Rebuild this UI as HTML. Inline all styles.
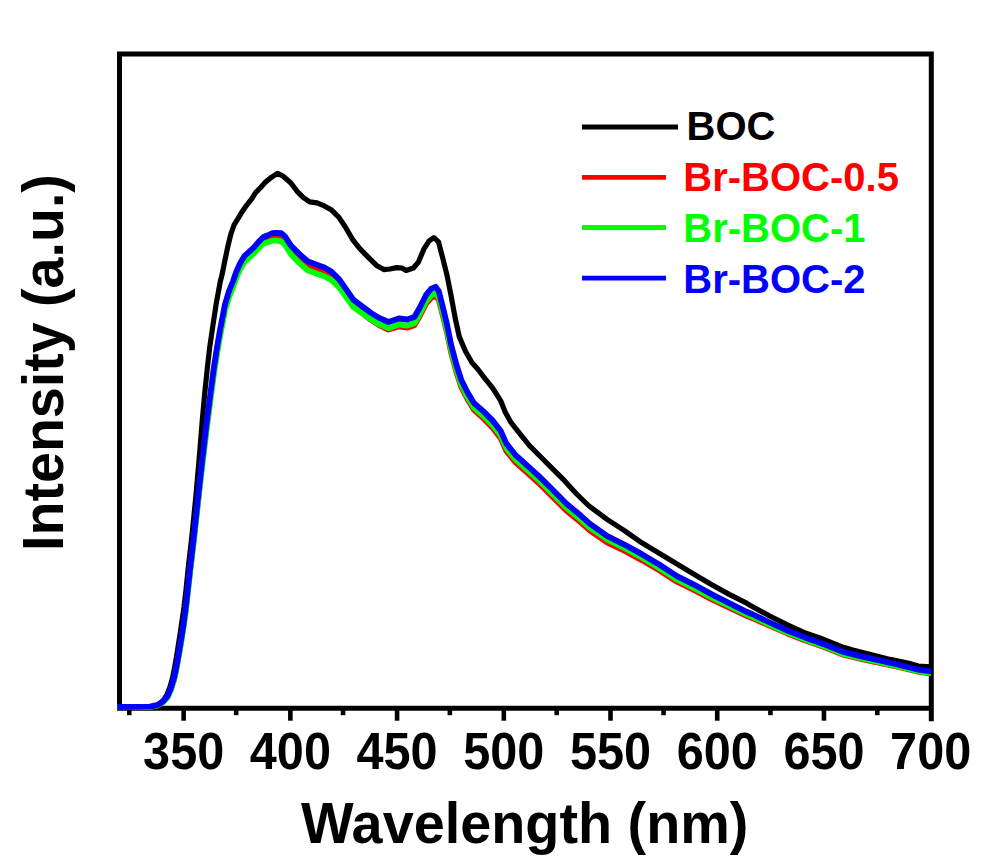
<!DOCTYPE html>
<html><head><meta charset="utf-8"><style>html,body{margin:0;padding:0;background:#fff;overflow:hidden}svg{display:block}</style></head>
<body><svg width="990" height="862" viewBox="0 0 990 862">
<defs><clipPath id="pc"><rect x="117.5" y="0" width="813.5" height="800"/></clipPath></defs>
<rect width="990" height="862" fill="#fff"/>
<g stroke="#000" fill="none">
<path d="M119.5,54 L931.3,54 L931.3,718.7 M931.3,708.2 L119.5,708.2 L119.5,54" stroke-width="5" stroke-linecap="square" stroke-linejoin="miter"/>
<line x1="129.29" y1="708" x2="129.29" y2="715.2" stroke="#000" stroke-width="4.6"/><line x1="183.65" y1="708" x2="183.65" y2="720.7" stroke="#000" stroke-width="4.6"/><line x1="236.15" y1="708" x2="236.15" y2="715.2" stroke="#000" stroke-width="4.6"/><line x1="290.37" y1="708" x2="290.37" y2="720.7" stroke="#000" stroke-width="4.6"/><line x1="343.01" y1="708" x2="343.01" y2="715.2" stroke="#000" stroke-width="4.6"/><line x1="397.08" y1="708" x2="397.08" y2="720.7" stroke="#000" stroke-width="4.6"/><line x1="449.87" y1="708" x2="449.87" y2="715.2" stroke="#000" stroke-width="4.6"/><line x1="503.80" y1="708" x2="503.80" y2="720.7" stroke="#000" stroke-width="4.6"/><line x1="556.72" y1="708" x2="556.72" y2="715.2" stroke="#000" stroke-width="4.6"/><line x1="610.51" y1="708" x2="610.51" y2="720.7" stroke="#000" stroke-width="4.6"/><line x1="663.58" y1="708" x2="663.58" y2="715.2" stroke="#000" stroke-width="4.6"/><line x1="717.23" y1="708" x2="717.23" y2="720.7" stroke="#000" stroke-width="4.6"/><line x1="770.44" y1="708" x2="770.44" y2="715.2" stroke="#000" stroke-width="4.6"/><line x1="823.94" y1="708" x2="823.94" y2="720.7" stroke="#000" stroke-width="4.6"/><line x1="877.30" y1="708" x2="877.30" y2="715.2" stroke="#000" stroke-width="4.6"/>
</g>
<g fill="none" stroke-linejoin="round" stroke-linecap="butt" clip-path="url(#pc)" stroke-width="5.2">
<path d="M117.0,707.0 L150.0,706.8 L156.0,705.9 L160.0,703.5 L164.0,699.5 L167.0,694.5 L170.0,687.0 L172.5,678.0 L174.5,668.0 L176.3,658.0 L178.2,646.0 L180.1,634.0 L182.0,621.0 L184.0,607.0 L186.0,590.0 L188.0,570.0 L192.0,535.0 L196.0,495.0 L199.5,455.0 L202.3,420.0 L204.7,393.6 L207.2,369.3 L209.6,348.2 L212.9,325.5 L216.1,304.4 L220.2,282.0 L222.0,274.9 L224.6,261.9 L227.8,246.6 L230.9,233.9 L234.1,224.9 L238.0,218.6 L241.8,212.2 L246.2,205.8 L251.3,199.4 L255.8,192.4 L260.9,187.3 L266.0,181.6 L271.7,177.1 L277.5,173.3 L282.6,175.8 L290.9,183.0 L297.1,191.3 L303.4,197.6 L309.7,201.8 L317.0,202.8 L324.3,205.9 L331.6,210.1 L338.9,217.4 L345.2,226.8 L352.5,239.3 L359.8,248.7 L368.1,257.1 L376.5,265.4 L383.8,269.6 L390.0,269.0 L396.7,267.6 L401.9,268.0 L406.1,270.5 L413.4,268.0 L418.6,261.8 L423.8,249.2 L429.1,240.9 L433.9,237.7 L438.5,241.9 L442.6,257.6 L446.8,274.3 L451.0,295.2 L455.2,318.1 L459.3,336.9 L465.6,351.5 L471.9,362.5 L478.1,369.5 L485.0,378.6 L492.5,387.9 L500.6,400.6 L505.3,412.2 L511.1,422.7 L520.4,434.3 L529.7,445.9 L541.3,457.5 L552.9,469.1 L564.5,480.7 L576.1,493.5 L589.0,506.0 L607.4,519.6 L624.8,530.9 L642.2,543.1 L659.6,553.5 L677.0,564.0 L694.4,574.4 L711.8,584.8 L729.2,594.4 L746.6,603.1 L750.0,605.2 L768.7,615.5 L787.4,624.9 L806.1,633.3 L824.8,639.8 L843.4,647.3 L852.8,650.1 L871.5,654.8 L890.2,659.4 L908.8,663.2 L918.2,666.0 L931.5,667.0" stroke="#000"/>
<path d="M117.0,707.0 L150.0,707.0 L157.8,705.4 L163.0,702.0 L167.5,697.1 L170.8,689.5 L174.0,679.3 L176.0,670.3 L177.9,660.0 L179.9,648.5 L181.8,637.0 L183.8,624.1 L185.7,609.9 L189.9,572.4 L194.0,537.6 L198.3,497.9 L202.2,463.0 L207.0,423.1 L210.5,396.1 L213.7,372.2 L216.9,351.2 L220.2,332.3 L225.0,307.7 L229.0,294.4 L233.1,284.4 L236.0,275.9 L240.0,267.0 L244.6,259.4 L249.3,255.2 L253.9,251.1 L258.6,245.6 L263.2,241.0 L267.8,239.3 L272.5,237.4 L276.5,237.2 L281.3,237.7 L285.0,241.0 L290.9,250.4 L299.2,258.9 L307.6,266.3 L315.9,269.4 L324.3,272.7 L331.6,277.2 L338.9,284.8 L346.2,295.4 L353.5,306.2 L361.9,312.8 L370.2,319.4 L378.6,324.9 L388.4,329.6 L398.8,326.5 L407.1,327.7 L414.4,325.4 L419.7,316.2 L425.9,303.9 L431.1,297.8 L435.5,295.8 L438.7,299.8 L442.7,315.0 L446.8,331.7 L451.2,352.9 L456.2,371.5 L461.3,387.1 L467.3,398.8 L473.9,409.9 L483.2,418.2 L492.5,427.7 L500.6,438.2 L506.4,451.1 L515.7,462.6 L527.3,472.9 L538.9,483.3 L552.9,497.1 L566.8,511.0 L580.7,522.4 L590.0,530.6 L607.4,542.6 L624.8,551.0 L642.2,560.4 L659.6,570.6 L677.0,581.8 L694.4,590.3 L711.8,599.4 L729.2,607.7 L746.6,615.9 L752.0,618.0 L768.7,625.5 L787.4,633.5 L806.1,640.8 L824.8,647.4 L843.4,654.8 L862.1,659.3 L880.8,663.1 L899.5,667.3 L918.2,671.8 L931.5,673.5" stroke="#f00" stroke-width="5.7"/>
<path d="M117.0,707.0 L150.0,707.0 L157.8,705.4 L163.0,702.2 L167.5,697.5 L170.8,690.1 L174.0,680.1 L176.0,671.3 L177.9,661.1 L179.9,649.8 L181.8,638.4 L183.8,625.7 L185.7,611.7 L189.9,574.6 L194.0,540.2 L198.3,500.9 L202.2,466.6 L207.0,426.9 L210.5,399.8 L213.7,375.8 L216.9,354.7 L220.2,335.6 L225.0,310.8 L229.0,297.3 L233.1,287.2 L236.0,278.6 L240.0,269.5 L244.6,261.8 L249.3,257.6 L253.9,253.4 L258.6,248.1 L263.2,243.7 L267.8,242.3 L272.5,240.7 L276.5,240.6 L281.3,241.3 L285.0,244.7 L290.9,254.3 L299.2,262.9 L307.6,270.3 L315.9,273.4 L324.3,276.3 L331.6,280.1 L338.9,287.1 L346.2,297.1 L353.5,307.2 L361.9,313.0 L370.2,318.9 L378.6,324.0 L388.4,328.2 L398.8,324.5 L407.1,325.6 L414.4,323.2 L419.7,314.0 L425.9,301.6 L431.1,295.3 L435.5,293.3 L438.7,297.3 L442.7,312.5 L446.8,329.3 L451.2,350.5 L456.2,369.2 L461.3,384.8 L467.3,396.6 L473.9,407.6 L483.2,415.7 L492.5,424.9 L500.6,435.3 L506.4,448.1 L515.7,459.6 L527.3,469.9 L538.9,480.3 L552.9,494.1 L566.8,508.0 L580.7,519.5 L590.0,527.7 L607.4,539.7 L624.8,548.2 L642.2,557.7 L659.6,568.2 L677.0,579.5 L694.4,588.3 L711.8,597.6 L729.2,606.0 L746.6,614.5 L752.0,616.6 L768.7,624.3 L787.4,632.5 L806.1,639.9 L824.8,646.5 L843.4,654.0 L862.1,658.5 L880.8,662.4 L899.5,666.7 L918.2,671.3 L931.5,673.0" stroke="#0f0" stroke-width="5.8"/>
<path d="M117.0,707.0 L150.0,706.6 L157.8,704.9 L163.0,701.3 L167.5,696.1 L170.8,688.3 L174.0,677.9 L176.0,668.8 L177.9,658.4 L179.9,646.8 L181.8,635.1 L183.8,622.1 L185.7,607.8 L189.9,570.0 L194.0,535.0 L198.3,495.0 L202.2,460.0 L207.0,420.0 L210.5,393.0 L213.7,369.0 L216.9,348.0 L220.2,329.0 L225.0,304.4 L229.0,291.0 L233.1,281.0 L236.0,272.5 L240.0,263.5 L244.6,255.8 L249.3,251.6 L253.9,247.4 L258.6,241.9 L263.2,237.2 L267.8,235.3 L272.5,233.2 L276.5,232.8 L281.3,233.2 L285.0,236.4 L290.9,245.6 L299.2,253.9 L307.6,261.3 L315.9,264.4 L324.3,267.5 L331.6,271.7 L338.9,279.0 L346.2,289.4 L353.5,299.9 L361.9,306.1 L370.2,312.4 L378.6,317.6 L388.4,322.0 L398.8,318.5 L407.1,319.5 L414.4,317.0 L419.7,307.7 L425.9,295.2 L431.1,288.9 L435.5,286.8 L438.7,291.0 L442.7,306.5 L446.8,323.5 L451.2,345.0 L456.2,364.0 L461.3,380.0 L467.3,392.0 L473.9,403.0 L483.2,411.1 L492.5,420.4 L500.6,430.8 L506.4,443.6 L515.7,455.2 L527.3,465.6 L538.9,476.1 L552.9,490.0 L566.8,504.0 L580.7,515.6 L590.0,523.9 L607.4,536.1 L624.8,544.8 L642.2,554.4 L659.6,564.8 L677.0,576.1 L694.4,584.8 L711.8,594.4 L729.2,603.1 L746.6,611.8 L752.0,614.0 L768.7,622.0 L787.4,630.5 L806.1,637.9 L824.8,644.5 L843.4,652.0 L862.1,656.6 L880.8,660.6 L899.5,665.0 L918.2,669.7 L931.5,671.5" stroke="#00f" stroke-width="5.8"/>
</g>
<text transform="translate(183.65,769.3) scale(1,1.055)" text-anchor="middle" font-size="48.6" font-family="'Liberation Sans', sans-serif" font-weight="bold">350</text><text transform="translate(290.37,769.3) scale(1,1.055)" text-anchor="middle" font-size="48.6" font-family="'Liberation Sans', sans-serif" font-weight="bold">400</text><text transform="translate(397.08,769.3) scale(1,1.055)" text-anchor="middle" font-size="48.6" font-family="'Liberation Sans', sans-serif" font-weight="bold">450</text><text transform="translate(503.80,769.3) scale(1,1.055)" text-anchor="middle" font-size="48.6" font-family="'Liberation Sans', sans-serif" font-weight="bold">500</text><text transform="translate(610.51,769.3) scale(1,1.055)" text-anchor="middle" font-size="48.6" font-family="'Liberation Sans', sans-serif" font-weight="bold">550</text><text transform="translate(717.23,769.3) scale(1,1.055)" text-anchor="middle" font-size="48.6" font-family="'Liberation Sans', sans-serif" font-weight="bold">600</text><text transform="translate(823.94,769.3) scale(1,1.055)" text-anchor="middle" font-size="48.6" font-family="'Liberation Sans', sans-serif" font-weight="bold">650</text><text transform="translate(930.65,769.3) scale(1,1.055)" text-anchor="middle" font-size="48.6" font-family="'Liberation Sans', sans-serif" font-weight="bold">700</text>
<text transform="translate(301,842.8) scale(1,1.025)" font-size="55.8" font-family="'Liberation Sans', sans-serif" font-weight="bold">Wavelength (nm)</text>
<text transform="translate(63.2,547.2) rotate(-90) scale(1,1.02)" x="-3.7" y="0" font-size="55.6" font-family="'Liberation Sans', sans-serif" font-weight="bold">Intensity (a.u.)</text>
<g stroke-width="4.8" stroke-linecap="butt">
<line x1="582" y1="127" x2="678" y2="127" stroke="#000"/>
<line x1="582" y1="177.4" x2="666" y2="177.4" stroke="#f00"/>
<line x1="582" y1="227.5" x2="666" y2="227.5" stroke="#0f0"/>
<line x1="582" y1="278.2" x2="666" y2="278.2" stroke="#00f"/>
</g>
<g font-size="40" font-family="'Liberation Sans', sans-serif" font-weight="bold">
<text x="686.6" y="140.4" fill="#000">BOC</text>
<text x="683.3" y="191.1" fill="#f00">Br-BOC-0.5</text>
<text x="683.3" y="241.9" fill="#0f0">Br-BOC-1</text>
<text x="683.3" y="292.7" fill="#00f">Br-BOC-2</text>
</g>
</svg></body></html>
